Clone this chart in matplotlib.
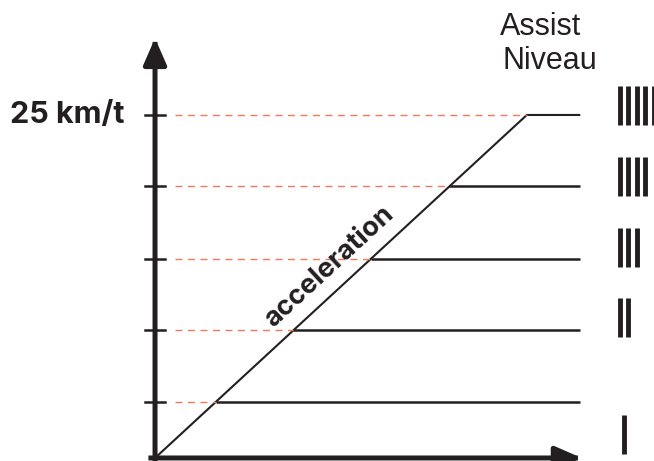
import matplotlib.pyplot as plt
import numpy as np

# assist levels (speed, km/t) and where the level symbols sit
levels = [4.1, 9.3, 14.5, 19.8, 25.0]
level_bars = [1, 2, 3, 4, 5]
symbol_y = [1.7, 10.25, 15.35, 20.5, 25.7]
top_speed = 25.0
t_end = 31.0
accel_slope = 25.0 / 27.1

ink = "#231f20"
red = "#f07a5a"

fig = plt.figure(figsize=(6.54, 4.61), dpi=100)
ax = fig.add_axes([0, 0, 1, 1])
ax.set_xlim(-11.3, 36.37)
ax.set_ylim(-0.22, 33.38)
ax.axis("off")

# acceleration line up to top speed, then flat
t_top = top_speed / accel_slope
ax.plot([0, t_top, t_end], [0, top_speed, top_speed], color=ink, lw=1.5,
        solid_capstyle="butt")

for lv, n, sy in zip(levels, level_bars, symbol_y):
    t_hit = lv / accel_slope
    if lv < top_speed:
        ax.plot([t_hit, t_end], [lv, lv], color=ink, lw=1.8, solid_capstyle="butt")
    ax.plot([1.45, t_hit], [lv, lv], color=red, lw=1.0, ls=(0, (5, 4)))
    ax.plot([-0.75, 0.75], [lv, lv], color=ink, lw=1.8)
    # roman style bars
    xs = 33.9 + np.arange(n) * 0.61
    if n == 1:
        xs = xs + 0.25
    ax.vlines(xs, sy - 1.42, sy + 1.42, color=ink, lw=3.5)

# axes with arrows
head = "-|>,head_length=1.6,head_width=0.7"
ax.annotate("", xy=(31.1, 0), xytext=(-0.3, 0),
            arrowprops=dict(arrowstyle=head, lw=3.6, color=ink,
                            shrinkA=0, shrinkB=0, capstyle="projecting"))
ax.annotate("", xy=(0, 30.6), xytext=(0, -0.2),
            arrowprops=dict(arrowstyle=head, lw=3.6, color=ink,
                            shrinkA=0, shrinkB=0, capstyle="projecting"))

ax.text(-2.2, top_speed, "25 km/t", ha="right", va="center", fontsize=22,
        fontweight="bold", family="Inter", color=ink)
ax.text(28.1, 31.4, "Assist", ha="center", va="center", fontsize=22,
        family="Liberation Sans", color=ink)
ax.text(28.8, 28.9, "Niveau", ha="center", va="center", fontsize=22,
        family="Liberation Sans", color=ink)
ax.text(12.7, 13.95, "acceleration", ha="center", va="center", fontsize=19.5,
        fontweight="bold", family="Inter", color=ink,
        rotation=np.degrees(np.arctan(accel_slope)), rotation_mode="anchor")

fig.savefig("out.png", dpi=100)
